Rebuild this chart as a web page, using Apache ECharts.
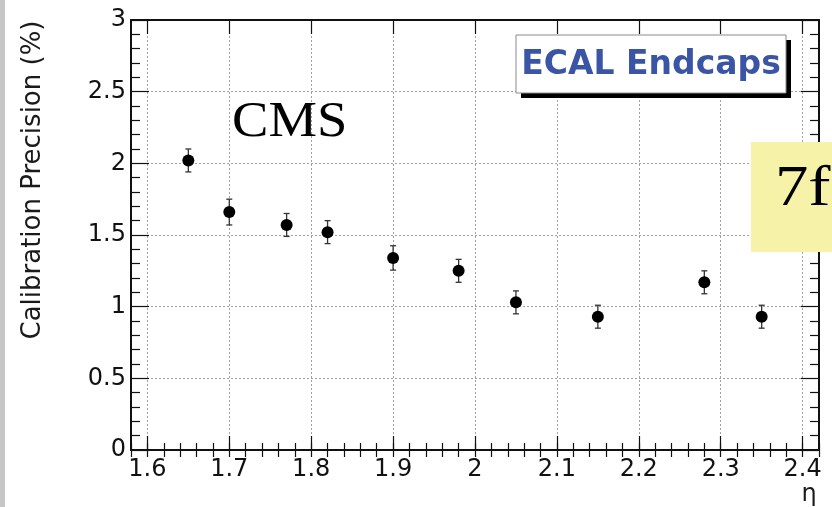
<!DOCTYPE html>
<html>
<head>
<meta charset="utf-8">
<script src="https://cdn.jsdelivr.net/npm/echarts@6/dist/echarts.min.js"></script>
<style>
  html, body { margin: 0; padding: 0; background: #fff; }
  #chart { width: 832px; height: 507px; }
</style>
</head>
<body>
<div id="chart"></div>
<script>
// Calibration precision per pseudorapidity bin, ECAL endcaps
const etaValues    = [1.65, 1.70, 1.77, 1.82, 1.90, 1.98, 2.05, 2.15, 2.28, 2.35];
const precision    = [2.02, 1.66, 1.57, 1.52, 1.34, 1.25, 1.03, 0.93, 1.17, 0.93];
const precisionErr = [0.08, 0.09, 0.08, 0.08, 0.085, 0.08, 0.08, 0.08, 0.08, 0.08];

// Axis ranges and labelled ticks
const etaMin = 1.58, etaMax = 2.42;
const etaTicks = [1.6, 1.7, 1.8, 1.9, 2.0, 2.1, 2.2, 2.3, 2.4];
const yMin = 0, yMax = 3;

const SANS = 'DejaVu Sans';
const SERIF = 'Liberation Serif';

const points = etaValues.map((x, i) => [x, precision[i]]);
const bars = etaValues.map((x, i) => [x, precision[i] - precisionErr[i], precision[i] + precisionErr[i]]);

const dotted = { show: true, lineStyle: { color: '#a0a0a0', width: 1, type: [2, 2] } };
const frameLine = { show: true, onZero: false, lineStyle: { color: '#111', width: 2 } };
const tickStyle = { color: '#111', width: 1.2 };
const fmt = v => String(+(+v).toFixed(1));

const chart = echarts.init(document.getElementById('chart'), null, { renderer: 'canvas' });

chart.setOption({
  animation: false,
  backgroundColor: '#fff',
  grid: { left: 131, right: 13, top: 20, bottom: 57, containLabel: false },
  xAxis: [
    { // bottom: major ticks, labels, grid
      type: 'value', position: 'bottom', min: etaMin, max: etaMax,
      axisLine: frameLine,
      axisTick: { show: true, inside: true, length: 14, customValues: etaTicks, lineStyle: tickStyle },
      axisLabel: {
        show: true, customValues: etaTicks, margin: 8,
        formatter: fmt,
        fontFamily: SANS, fontSize: 24, color: '#111'
      },
      splitLine: dotted
    },
    { // bottom: minor ticks
      type: 'value', position: 'bottom', min: etaMin, max: etaMax, interval: 0.02,
      axisLine: { show: false },
      axisTick: { show: true, inside: true, length: 7, lineStyle: tickStyle },
      axisLabel: { show: false }, splitLine: { show: false }
    },
    { // top: major ticks
      type: 'value', position: 'top', min: etaMin, max: etaMax,
      axisLine: frameLine,
      axisTick: { show: true, inside: true, length: 14, customValues: etaTicks, lineStyle: tickStyle },
      axisLabel: { show: false }, splitLine: { show: false }
    },
    { // top: minor ticks
      type: 'value', position: 'top', min: etaMin, max: etaMax, interval: 0.02,
      axisLine: { show: false },
      axisTick: { show: true, inside: true, length: 7, lineStyle: tickStyle },
      axisLabel: { show: false }, splitLine: { show: false }
    }
  ],
  yAxis: [
    {
      type: 'value', position: 'left', min: yMin, max: yMax, interval: 0.5,
      axisLine: frameLine,
      axisTick: { show: true, inside: true, length: 18, lineStyle: tickStyle },
      minorTick: { show: true, splitNumber: 5, length: 9, lineStyle: tickStyle },
      axisLabel: { show: true, margin: 5, formatter: fmt, fontFamily: SANS, fontSize: 24, color: '#111' },
      splitLine: dotted
    },
    {
      type: 'value', position: 'right', min: yMin, max: yMax, interval: 0.5,
      axisLine: frameLine,
      axisTick: { show: true, inside: true, length: 18, lineStyle: tickStyle },
      minorTick: { show: true, splitNumber: 5, length: 9, lineStyle: tickStyle },
      axisLabel: { show: false }, splitLine: { show: false }
    }
  ],
  series: [
    {
      type: 'custom',
      xAxisIndex: 0, yAxisIndex: 0,
      data: bars,
      z: 3,
      renderItem: (params, api) => {
        const lo = api.coord([api.value(0), api.value(1)]);
        const hi = api.coord([api.value(0), api.value(2)]);
        const cap = 3;
        const style = { stroke: '#333', lineWidth: 1.3 };
        return {
          type: 'group',
          children: [
            { type: 'line', shape: { x1: lo[0], y1: lo[1], x2: hi[0], y2: hi[1] }, style },
            { type: 'line', shape: { x1: lo[0] - cap, y1: lo[1], x2: lo[0] + cap, y2: lo[1] }, style },
            { type: 'line', shape: { x1: hi[0] - cap, y1: hi[1], x2: hi[0] + cap, y2: hi[1] }, style }
          ]
        };
      }
    },
    {
      type: 'scatter',
      xAxisIndex: 0, yAxisIndex: 0,
      data: points,
      symbol: 'circle',
      symbolSize: 12,
      itemStyle: { color: '#000', opacity: 1 },
      emphasis: { disabled: true },
      z: 4
    }
  ],
  graphic: [
    { type: 'rect', left: 0, top: 0, shape: { width: 5, height: 507 }, style: { fill: '#c6c6c6' }, z: 10 },
    {
      type: 'text', x: 33, y: 180, rotation: Math.PI / 2,
      style: { text: 'Calibration Precision (%)', fontFamily: SANS, fontSize: 26, fill: '#1a1a1a', align: 'center', verticalAlign: 'middle' },
      z: 10
    },
    {
      type: 'text', x: 809, y: 495,
      style: { text: 'η', fontFamily: SANS, fontSize: 24, fill: '#1a1a1a', align: 'center', verticalAlign: 'middle' },
      z: 10
    },
    {
      type: 'text', x: 232, y: 123, scaleX: 1.07,
      style: { text: 'CMS', fontFamily: SERIF, fontSize: 51, fill: '#000', align: 'left', verticalAlign: 'middle' },
      z: 10
    },
    // label box with drop shadow
    { type: 'rect', shape: { x: 521, y: 40, width: 270, height: 58 }, style: { fill: '#000' }, z: 10 },
    { type: 'rect', shape: { x: 516, y: 35, width: 270, height: 58 }, style: { fill: '#fff', stroke: '#8a8a8a', lineWidth: 1 }, z: 11 },
    {
      type: 'text', x: 651, y: 65,
      style: { text: 'ECAL Endcaps', fontFamily: SANS, fontWeight: 'bold', fontSize: 33, fill: '#3a55a6', align: 'center', verticalAlign: 'middle' },
      z: 12
    },
    // yellow note at the right edge
    { type: 'rect', shape: { x: 751, y: 142, width: 81, height: 110 }, style: { fill: '#f6f3a8' }, z: 13 },
    {
      type: 'text', x: 775, y: 190, scaleX: 1.15,
      style: { text: '7f', fontFamily: SERIF, fontSize: 58, fill: '#000', align: 'left', verticalAlign: 'middle' },
      z: 14
    }
  ]
});
</script>
</body>
</html>
